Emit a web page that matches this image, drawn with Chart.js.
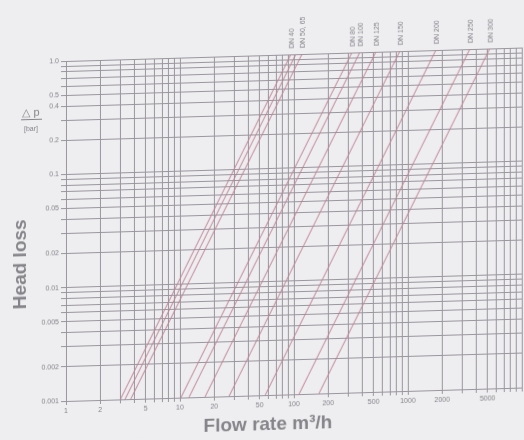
<!DOCTYPE html>
<html><head><meta charset="utf-8">
<script src="https://cdn.jsdelivr.net/npm/chart.js@4/dist/chart.umd.min.js"></script>
<style>html,body{margin:0;padding:0;background:#eeedf0;}#wrap{width:524px;height:440px;position:relative;overflow:hidden;background:#eeedf0}
#c{position:absolute;left:0;top:0;transform-origin:0 0}</style>
</head><body><div id="wrap"><canvas id="c" width="524" height="440"></canvas></div>
<script>
// Pipe sizes (one straight line each on the log-log chart)
const pipeSizes = ['DN 40','DN 50','DN 65','DN 80','DN 100','DN 125','DN 150','DN 200','DN 250','DN 300'];
// flow (m3/h) read at the bottom (0.001 bar) and the top (1.0 bar) of each line
const flowAtLowLoss  = [3.0, 3.3, 3.7, 10.2, 12.0, 16.6, 27, 56, 111, 166];
const flowAtHighLoss = [94, 104, 118, 323, 379, 524, 851, 1762, 3500, 5244];
const lowLoss = 0.001;
const highLoss = 1.0;
// captions printed above the line tops
const topLabels = ['DN 40','DN 50, 65','DN 80','DN 100','DN 125','DN 150','DN 200','DN 250','DN 300'];
const topLabelFlows = [94, 118, 323, 379, 524, 851, 1762, 3500, 5244];
// axis tick labels
const xTickLabels = ['1','2','5','10','20','50','100','200','500','1000','2000','5000'];
const yTickLabels = ['1.0','0.5','0.4','0.2','0.1','0.05','0.02','0.01','0.005','0.002','0.001'];

const GRID = '#99969d';
const LINE = 'rgba(190,128,143,0.8)';
const TXT = '#858489';
const FONT = "'Liberation Sans', Arial, sans-serif";

// photographed sheet: slight tilt (page layout only)
const TILT = -0.0295;
document.getElementById('c').style.transform = `matrix(1,${TILT},0,1,0,${-TILT * 66})`;

function logTicks(minExp, maxExp) {
  const t = [];
  for (let k = minExp; k < maxExp; k++) for (let m = 1; m <= 9; m++) t.push({value: +(m * Math.pow(10, k)).toPrecision(6)});
  t.push({value: Math.pow(10, maxExp)});
  return t;
}
function labelFor(list, v) {
  for (const s of list) { const n = parseFloat(s); if (Math.abs(n - v) / n < 1e-6) return s; }
  return '';
}

const datasets = pipeSizes.map((name, i) => ({
  label: name,
  data: [{x: flowAtLowLoss[i], y: lowLoss}, {x: flowAtHighLoss[i], y: highLoss}],
  showLine: true, borderColor: LINE, borderWidth: 1.1, pointRadius: 0, fill: false
}));

const textPlugin = {
  id: 'texts',
  beforeDraw(chart) {
    const ctx = chart.ctx;
    ctx.save(); ctx.fillStyle = '#eeedf0'; ctx.fillRect(0, 0, chart.width, chart.height); ctx.restore();
  },
  afterDraw(chart) {
    const ctx = chart.ctx, xs = chart.scales.x;
    ctx.save();
    ctx.fillStyle = TXT;
    // DN captions
    ctx.font = '7px ' + FONT;
    ctx.textAlign = 'left'; ctx.textBaseline = 'middle';
    topLabels.forEach((t, i) => {
      const px = xs.getPixelForValue(topLabelFlows[i]);
      ctx.save(); ctx.translate(px + 1, 55); ctx.rotate(-Math.PI / 2); ctx.fillText(t, 0, 0); ctx.restore();
    });
    // delta p / [bar]
    ctx.textAlign = 'center'; ctx.textBaseline = 'alphabetic';
    ctx.font = '11px ' + FONT;
    ctx.fillText('\u25B3 p', 31, 115);
    ctx.fillRect(21, 118, 21, 1);
    ctx.font = '7px ' + FONT;
    ctx.fillText('[bar]', 31, 130);
    // axis titles
    ctx.font = 'bold 19px ' + FONT;
    ctx.fillStyle = '#858488';
    ctx.textAlign = 'center'; ctx.textBaseline = 'middle';
    ctx.fillText('Flow rate m\u00B3/h', 268, 431);
    ctx.save(); ctx.translate(21, 263); ctx.rotate(-Math.PI / 2); ctx.fillText('Head loss', 0, 0); ctx.restore();
    ctx.restore();
  }
};

new Chart(document.getElementById('c'), {
  type: 'scatter',
  data: {datasets},
  options: {
    responsive: false, animation: false,
    layout: {padding: {top: 61, right: 2, left: 0, bottom: 0}},
    plugins: {legend: {display: false}, tooltip: {enabled: false}},
    scales: {
      x: {
        type: 'logarithmic', min: 1, max: 10000,
        afterBuildTicks: s => { s.ticks = logTicks(0, 4); },
        afterFit: s => { s.height = 39; },
        grid: {color: GRID, lineWidth: 1, tickLength: 4, drawTicks: true, tickColor: GRID},
        border: {color: GRID, width: 1},
        ticks: {autoSkip: false, maxRotation: 0, minRotation: 0, padding: 2, color: TXT,
          font: {size: 7, family: FONT}, callback: v => labelFor(xTickLabels, v)}
      },
      y: {
        type: 'logarithmic', min: 0.001, max: 1,
        afterBuildTicks: s => { s.ticks = logTicks(-3, 0); },
        afterFit: s => { s.width = 66; },
        grid: {color: GRID, lineWidth: 1, tickLength: 5, drawTicks: true, tickColor: GRID},
        border: {color: GRID, width: 1},
        ticks: {autoSkip: false, padding: 2, color: TXT,
          font: {size: 7, family: FONT}, callback: v => labelFor(yTickLabels, v)}
      }
    }
  },
  plugins: [textPlugin]
});
</script></body></html>
